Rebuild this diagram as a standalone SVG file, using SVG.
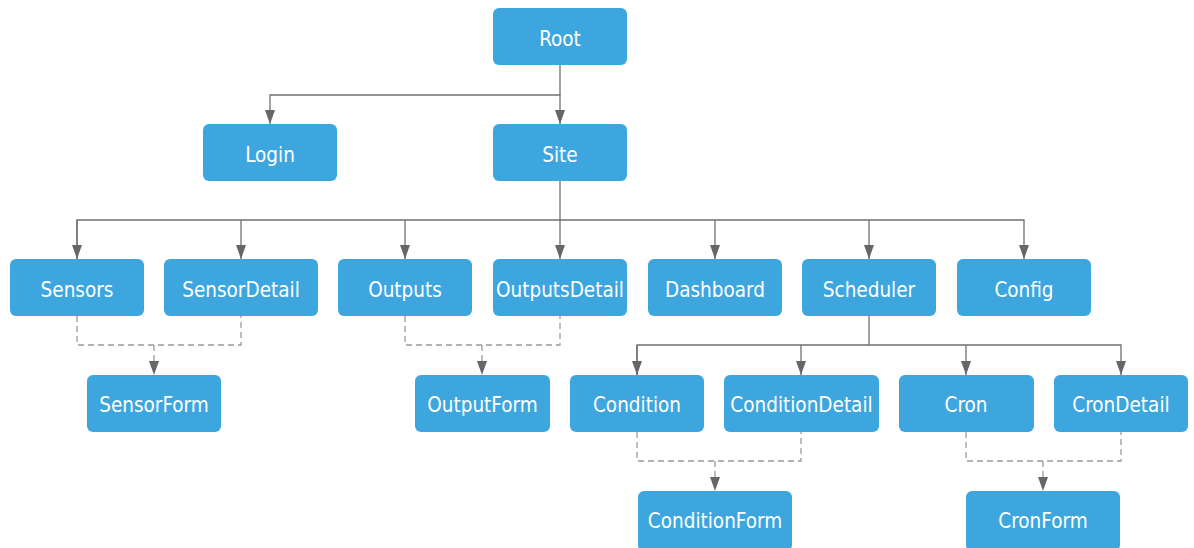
<svg xmlns="http://www.w3.org/2000/svg" width="1194" height="548" viewBox="0 0 1194 548">
<style>
.box{fill:#3da6de;}
.lbl{fill:#ffffff;font-family:"DejaVu Sans Condensed","DejaVu Sans",sans-serif;font-stretch:condensed;font-size:20.5px;text-anchor:middle;}
.ln{fill:none;stroke:#707070;stroke-width:1.3;}
.dl{fill:none;stroke:#9a9a9a;stroke-width:1.3;stroke-dasharray:6,4;}
</style>
<defs>
<marker id="arr" viewBox="0 0 14 10" markerWidth="14" markerHeight="10" refX="14" refY="5" orient="auto" markerUnits="userSpaceOnUse">
<path d="M0,0 L14,5 L0,10 z" fill="#666666"/>
</marker>
</defs>
<rect width="1194" height="548" fill="#ffffff"/>
<g id="connectors">
<path class="ln" d="M560,65 V95 H270 V124" marker-end="url(#arr)"/>
<path class="ln" d="M560,95 V124" marker-end="url(#arr)"/>
<path class="ln" d="M560,181 V220"/>
<path class="ln" d="M77,259 V220 H1024 V259" marker-end="url(#arr)"/>
<path class="ln" d="M77,220 V259" marker-end="url(#arr)"/>
<path class="ln" d="M241,220 V259" marker-end="url(#arr)"/>
<path class="ln" d="M405,220 V259" marker-end="url(#arr)"/>
<path class="ln" d="M560,220 V259" marker-end="url(#arr)"/>
<path class="ln" d="M715,220 V259" marker-end="url(#arr)"/>
<path class="ln" d="M869,220 V259" marker-end="url(#arr)"/>
<path class="ln" d="M869,316 V345"/>
<path class="ln" d="M637,375 V345 H1121 V375" marker-end="url(#arr)"/>
<path class="ln" d="M637,345 V375" marker-end="url(#arr)"/>
<path class="ln" d="M801,345 V375" marker-end="url(#arr)"/>
<path class="ln" d="M966,345 V375" marker-end="url(#arr)"/>
<path class="dl" d="M77,316 V345 H241 V316"/>
<path class="dl" d="M154,345 V375" marker-end="url(#arr)"/>
<path class="dl" d="M405,316 V345 H560 V316"/>
<path class="dl" d="M482,345 V375" marker-end="url(#arr)"/>
<path class="dl" d="M637,432 V461 H801 V432"/>
<path class="dl" d="M715,461 V491" marker-end="url(#arr)"/>
<path class="dl" d="M966,432 V461 H1121 V432"/>
<path class="dl" d="M1043,461 V491" marker-end="url(#arr)"/>
</g>
<g id="root"><rect class="box" x="493" y="8" width="134" height="57" rx="6"/><text class="lbl" x="560" y="45.5">Root</text></g>
<g id="login"><rect class="box" x="203" y="124" width="134" height="57" rx="6"/><text class="lbl" x="270" y="161.5">Login</text></g>
<g id="site"><rect class="box" x="493" y="124" width="134" height="57" rx="6"/><text class="lbl" x="560" y="161.5">Site</text></g>
<g id="sensors"><rect class="box" x="10" y="259" width="134" height="57" rx="6"/><text class="lbl" x="77" y="296.5">Sensors</text></g>
<g id="sensordetail"><rect class="box" x="164" y="259" width="154" height="57" rx="6"/><text class="lbl" x="241" y="296.5">SensorDetail</text></g>
<g id="outputs"><rect class="box" x="338" y="259" width="134" height="57" rx="6"/><text class="lbl" x="405" y="296.5">Outputs</text></g>
<g id="outputsdetail"><rect class="box" x="493" y="259" width="134" height="57" rx="6"/><text class="lbl" x="560" y="296.5">OutputsDetail</text></g>
<g id="dashboard"><rect class="box" x="648" y="259" width="134" height="57" rx="6"/><text class="lbl" x="715" y="296.5">Dashboard</text></g>
<g id="scheduler"><rect class="box" x="802" y="259" width="134" height="57" rx="6"/><text class="lbl" x="869" y="296.5">Scheduler</text></g>
<g id="config"><rect class="box" x="957" y="259" width="134" height="57" rx="6"/><text class="lbl" x="1024" y="296.5">Config</text></g>
<g id="sensorform"><rect class="box" x="87" y="375" width="134" height="57" rx="6"/><text class="lbl" x="154" y="412">SensorForm</text></g>
<g id="outputform"><rect class="box" x="415" y="375" width="135" height="57" rx="6"/><text class="lbl" x="482.5" y="412">OutputForm</text></g>
<g id="condition"><rect class="box" x="570" y="375" width="134" height="57" rx="6"/><text class="lbl" x="637" y="412">Condition</text></g>
<g id="conditiondetail"><rect class="box" x="724" y="375" width="155" height="57" rx="6"/><text class="lbl" x="801.5" y="412">ConditionDetail</text></g>
<g id="cron"><rect class="box" x="899" y="375" width="135" height="57" rx="6"/><text class="lbl" x="966" y="412">Cron</text></g>
<g id="crondetail"><rect class="box" x="1054" y="375" width="134" height="57" rx="6"/><text class="lbl" x="1121" y="412">CronDetail</text></g>
<g id="conditionform"><rect class="box" x="638" y="491" width="154" height="60" rx="6"/><text class="lbl" x="715" y="528">ConditionForm</text></g>
<g id="cronform"><rect class="box" x="966" y="491" width="154" height="60" rx="6"/><text class="lbl" x="1043" y="528">CronForm</text></g>
</svg>
